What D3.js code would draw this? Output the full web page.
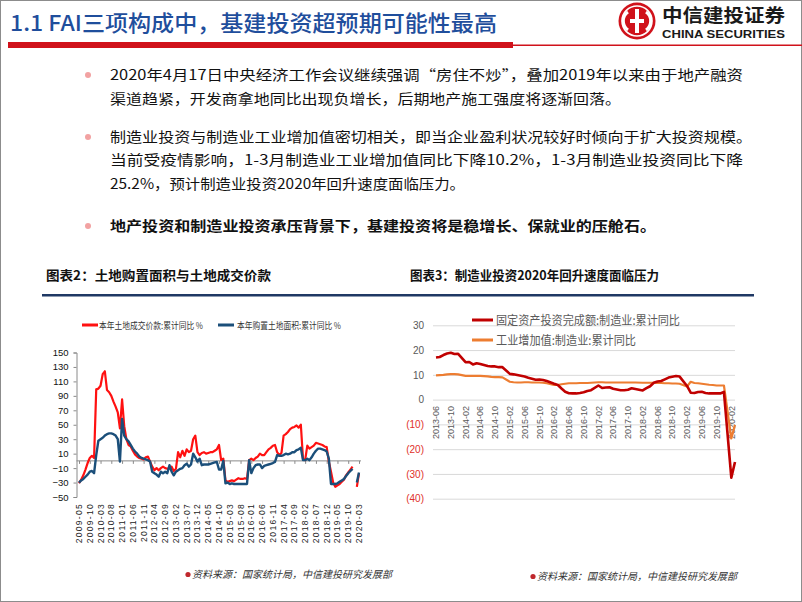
<!DOCTYPE html>
<html><head><meta charset="utf-8">
<script src="https://cdn.jsdelivr.net/npm/d3@7"></script>
<style>body{margin:0;background:#fff}svg{display:block}</style>
</head><body><svg id="c" width="802" height="602"></svg>
<script>
// ---------------- DATA ----------------
// Left chart: monthly categories 2009-05 .. 2020-03
const leftStart = [2009, 5], leftEnd = [2020, 3];
const leftTickLabels = ["2009-05","2009-10","2010-03","2010-08","2011-01","2011-06","2011-11","2012-04","2012-09","2013-02","2013-07","2013-12","2014-05","2014-10","2015-03","2015-08","2016-01","2016-06","2016-11","2017-04","2017-09","2018-02","2018-07","2018-12","2019-05","2019-10","2020-03"];
const leftYTicks = [150,130,110,90,70,50,30,10,-10,-30,-50];
const landPrice = [
 -31,-26,-20,-12,-3,4,7,4,
 99,100,104,120,124,98,95,90,82,75,67,45,
 85,48,30,22,20,14,9,6,4,3,2,5,
 6,-1,-8,-13,-10,-13,-10,-8,-10,-11,-10,-8,
 -14,-11,12,5,14,7,16,12,14,30,35,12,
 8,11,12,10,11,12,12,14,16,22,1,3,
 -27,-29,-28,-27,-28,-26,-24,-25,-25,-24,-25,1,
 3,1,4,6,10,8,8,12,16,18,21,22,
 12,8,11,35,37,40,44,46,47,49,46,50,
 3,1,21,17,19,21,25,24,23,22,20,19,
 -1,-15,-30,-36,-34,-32,-29,-26,-20,-16,-12,-8,
 null,-36,-17];
const landArea = [
 -30,-27,-25,-22,-19,-15,-14,-17,
 8,28,30,32,35,37,38,38,37,35,30,-1,
 58,35,30,27,22,17,13,10,6,4,3,2,
 1,-1,-15,-17,-19,-22,-15,-17,-15,-17,-6,-15,
 -20,-15,-13,-11,-10,-6,-4,-8,-5,10,5,-1,
 3,-6,-5,-5,-5,-4,-3,-2,-1.5,-12,-12,0,
 -31,-30,-32,-31,-32,-32,-32,-32,-32,-32,-32,1,
 -17,-10,-6,-5,-5,-10,-7,-6,-5,-4,-3,-1.5,
 8,7,7,8,10,9,10,12,12,15,16,18,
 1,1,3,1,5,10,14,17,17,16,15,13,
 3,-32,-32,-32,-31,-29,-27,-25,-21,-17,-14,-11,
 null,-30,-16];
const leftSeriesNames = ["本年土地成交价款:累计同比 %","本年购置土地面积:累计同比 %"];

// Right chart: monthly categories 2013-06 .. 2020-03
const rightStart = [2013, 6], rightEnd = [2020, 3];
const rightTickLabels = ["2013-06","2013-10","2014-02","2014-06","2014-10","2015-02","2015-06","2015-10","2016-02","2016-06","2016-10","2017-02","2017-06","2017-10","2018-02","2018-06","2018-10","2019-02","2019-06","2019-10","2020-02"];
const rightYTicks = [30,20,10,0,-10,-20,-30,-40];
const mfgFAI = [
 17.0,17.2,18.0,18.6,18.9,18.4,18.5,
 null,15.1,15.2,14.2,14.7,14.4,14.0,13.6,13.4,13.4,13.1,13.1,
 null,10.4,10.2,9.9,9.6,9.3,8.8,8.4,8.0,8.1,7.9,7.5,
 null,6.4,5.9,4.5,3.2,2.6,2.5,2.5,2.7,3.0,3.5,3.8,
 null,5.7,4.7,4.9,5.0,4.4,4.1,3.8,3.8,4.0,4.6,4.3,
 null,3.7,4.6,5.4,6.8,7.3,7.5,8.2,8.9,9.2,9.5,9.3,
 null,5.5,2.8,2.7,3.1,3.2,2.7,2.5,2.6,2.5,2.5,3.1,
 null,-31.5,-25.2];
const mfgIVA = [
 9.8,9.9,10.0,10.2,10.3,10.3,10.2,
 null,9.6,9.6,9.6,9.6,9.6,9.5,9.4,9.2,9.1,9.1,9.0,
 null,7.2,7.0,6.9,6.9,7.0,7.0,6.9,6.9,6.9,6.8,6.6,
 null,5.9,5.9,6.2,6.4,6.6,6.6,6.6,6.7,6.7,6.7,6.8,
 null,7.0,7.0,6.9,6.9,6.9,6.9,6.9,6.9,6.9,6.9,6.9,
 null,6.8,6.8,6.8,6.8,6.7,6.7,6.6,6.6,6.5,6.5,6.4,
 null,5.3,7.2,6.7,6.6,6.4,6.2,6.0,5.9,5.7,5.7,5.7,
 null,-15.7,-10.2];
const rightSeriesNames = ["固定资产投资完成额:制造业:累计同比","工业增加值:制造业:累计同比"];

// Text content
const pageTitle = "1.1 FAI三项构成中，基建投资超预期可能性最高";
const bulletLines = [
 {t:"2020年4月17日中央经济工作会议继续强调“房住不炒”，叠加2019年以来由于地产融资", dot:true, bold:false},
 {t:"渠道趋紧，开发商拿地同比出现负增长，后期地产施工强度将逐渐回落。", dot:false, bold:false},
 {t:"制造业投资与制造业工业增加值密切相关，即当企业盈利状况较好时倾向于扩大投资规模。", dot:true, bold:false},
 {t:"当前受疫情影响，1-3月制造业工业增加值同比下降10.2%，1-3月制造业投资同比下降", dot:false, bold:false},
 {t:"25.2%，预计制造业投资2020年回升速度面临压力。", dot:false, bold:false},
 {t:"地产投资和制造业投资承压背景下，基建投资将是稳增长、保就业的压舱石。", dot:true, bold:true}
];
const chartTitles = ["图表2：土地购置面积与土地成交价款","图表3：制造业投资2020年回升速度面临压力"];
const sourceNote = "资料来源：国家统计局，中信建投研究发展部";

// ---------------- HELPERS ----------------
function monthSeq(s, e){
  const out=[]; let y=s[0], m=s[1];
  while(y<e[0] || (y===e[0] && m<=e[1])){ out.push(y+"-"+String(m).padStart(2,"0")); m++; if(m>12){m=1;y++;} }
  return out;
}
const CJK = '"Noto Sans CJK SC", sans-serif';
const svg = d3.select("#c");

// frame
svg.append("rect").attr("x",0.5).attr("y",0.5).attr("width",801).attr("height",601)
  .attr("fill","#fff").attr("stroke","#8c8c8c").attr("stroke-width",1);

// ---------------- HEADER ----------------
svg.append("text").attr("x",10).attr("y",31).text(pageTitle)
  .attr("font-family",CJK).attr("font-size",22).attr("font-weight",500)
  .attr("fill","#1f4e9c").attr("textLength",487).attr("lengthAdjust","spacingAndGlyphs");
svg.append("rect").attr("x",8).attr("y",42).attr("width",505).attr("height",6).attr("fill","#d0121b");
svg.append("rect").attr("x",513).attr("y",44.5).attr("width",289).attr("height",1.5).attr("fill","#d0121b");

// logo
const lg = svg.append("g").attr("transform","translate(637,21)");
lg.append("circle").attr("r",18.5).attr("fill","#d0121b");
lg.append("circle").attr("r",15).attr("fill","none").attr("stroke","#fff").attr("stroke-width",1.6);
lg.append("rect").attr("x",-2).attr("y",-12).attr("width",4).attr("height",24).attr("fill","#fff");
lg.append("path").attr("d","M-9,-9 A11,11 0 0,0 -9,9").attr("fill","none").attr("stroke","#fff").attr("stroke-width",3);
lg.append("path").attr("d","M9,-9 A11,11 0 0,1 9,9").attr("fill","none").attr("stroke","#fff").attr("stroke-width",3);
lg.append("rect").attr("x",-7).attr("y",-2).attr("width",14).attr("height",4).attr("fill","#fff");
svg.append("text").attr("x",662).attr("y",22).text("中信建投证券")
  .attr("font-family",CJK).attr("font-size",18).attr("font-weight",700).attr("fill","#1a1a1a")
  .attr("textLength",123).attr("lengthAdjust","spacingAndGlyphs");
svg.append("text").attr("x",662).attr("y",38).text("CHINA SECURITIES")
  .attr("font-family","Liberation Sans, Arial, sans-serif").attr("font-size",10).attr("font-weight",700).attr("fill","#1a1a1a")
  .attr("textLength",123).attr("lengthAdjust","spacingAndGlyphs");

// ---------------- BULLETS ----------------
const lineY = [80, 104, 142, 165, 189, 231];
const lineEnd = [743, 621, 752, 743, 465, 656];
bulletLines.forEach((d,i)=>{
  if(d.dot) svg.append("circle").attr("cx",88).attr("cy",lineY[i]-5).attr("r",3).attr("fill","#f2a2a2");
  svg.append("text").attr("x",110).attr("y",lineY[i]).text(d.t)
    .attr("font-family",CJK).attr("font-size",14).attr("font-weight",d.bold?700:400)
    .attr("fill","#111").attr("textLength",lineEnd[i]-110).attr("lengthAdjust","spacingAndGlyphs");
});

// chart titles + rule
svg.append("text").attr("x",46).attr("y",280).text(chartTitles[0])
  .attr("font-family",CJK).attr("font-size",13).attr("font-weight",700).attr("fill","#111")
  .attr("textLength",225).attr("lengthAdjust","spacingAndGlyphs");
svg.append("text").attr("x",410).attr("y",280).text(chartTitles[1])
  .attr("font-family",CJK).attr("font-size",13).attr("font-weight",700).attr("fill","#111")
  .attr("textLength",249).attr("lengthAdjust","spacingAndGlyphs");
svg.append("rect").attr("x",42).attr("y",294).attr("width",712).attr("height",2.5).attr("fill","#1f3864");

// ---------------- LEFT CHART ----------------
const lMonths = monthSeq(leftStart, leftEnd);
const xL = d3.scalePoint().domain(lMonths).range([79, 359]);
const yL = d3.scaleLinear().domain([-50,150]).range([497, 352.5]);
const NARROW = '"Liberation Sans Narrow", "Arial Narrow", sans-serif';

const yAxisL = svg.append("g").attr("transform","translate(76.5,0)")
  .call(d3.axisLeft(yL).tickValues(leftYTicks).tickSize(3).tickPadding(5));
yAxisL.select(".domain").attr("stroke","#8a8a8a");
yAxisL.selectAll(".tick line").attr("stroke","#8a8a8a");
yAxisL.selectAll("text").attr("font-family",NARROW).attr("font-size",9.5).attr("fill","#111");

const xAxisL = svg.append("g").attr("transform",`translate(0,${yL(0)})`)
  .call(d3.axisBottom(xL).tickValues(leftTickLabels).tickSize(3).tickFormat(""));
xAxisL.select(".domain").attr("stroke","#8a8a8a").attr("d",`M76.5,0H361`);
xAxisL.selectAll(".tick line").attr("stroke","#8a8a8a");

svg.append("g").selectAll("text").data(leftTickLabels).join("text")
  .attr("transform",d=>`translate(${xL(d)+3},503) rotate(-90)`)
  .attr("text-anchor","end").text(d=>d)
  .attr("font-family","Liberation Sans, Arial, sans-serif").attr("font-size",8.5)
  .attr("letter-spacing",1.3).attr("fill","#222");

const lineL = d3.line().defined(d=>d.v!==null).x(d=>xL(d.m)).y(d=>yL(d.v));
const lp = landPrice.map((v,i)=>({m:lMonths[i],v}));
const la = landArea.map((v,i)=>({m:lMonths[i],v}));
svg.append("path").attr("d",lineL(lp)).attr("fill","none").attr("stroke","#ff1111").attr("stroke-width",2.2).attr("stroke-linejoin","round");
svg.append("path").attr("d",lineL(la)).attr("fill","none").attr("stroke","#1b4f7a").attr("stroke-width",2.4).attr("stroke-linejoin","round");

// left legend
const legL = [{c:"#ff1111",x:82,tx:99},{c:"#1b4f7a",x:218,tx:237}];
legL.forEach((d,i)=>{
  svg.append("line").attr("x1",d.x).attr("x2",d.x+16).attr("y1",325).attr("y2",325).attr("stroke",d.c).attr("stroke-width",3);
  svg.append("text").attr("x",d.tx).attr("y",328.5).text(leftSeriesNames[i])
    .attr("font-family",CJK).attr("font-size",9).attr("fill","#333")
    .attr("textLength",104).attr("lengthAdjust","spacingAndGlyphs");
});

// ---------------- RIGHT CHART ----------------
const rMonths = monthSeq(rightStart, rightEnd);
const xR = d3.scalePoint().domain(rMonths).range([436, 735]);
const yR = d3.scaleLinear().domain([-40,30]).range([498.7, 325.3]);

const gridR = svg.append("g").attr("transform","translate(433,0)")
  .call(d3.axisLeft(yR).tickValues(rightYTicks).tickSize(-302).tickPadding(9)
    .tickFormat(d=> d<0 ? `(${-d})` : `${d}`));
gridR.select(".domain").remove();
gridR.selectAll(".tick line").attr("stroke","#d9d9d9").attr("stroke-width",1);
gridR.selectAll(".tick text").attr("font-family","Liberation Sans, Arial, sans-serif").attr("font-size",10)
  .attr("fill",d=> d<0 ? "#e0302a" : "#595959");

svg.append("g").selectAll("text").data(rightTickLabels).join("text")
  .attr("transform",d=>`translate(${xR(d)+3.2},406) rotate(-90)`)
  .attr("text-anchor","end").text(d=>d)
  .attr("font-family","Liberation Sans, Arial, sans-serif").attr("font-size",9)
  .attr("fill","#595959");

const lineR = d3.line().x(d=>xR(d.m)).y(d=>yR(d.v));
const fa = mfgFAI.map((v,i)=>({m:rMonths[i],v})).filter(d=>d.v!==null);
const iv = mfgIVA.map((v,i)=>({m:rMonths[i],v})).filter(d=>d.v!==null);
svg.append("path").attr("d",lineR(iv)).attr("fill","none").attr("stroke","#ed7d31").attr("stroke-width",2.2).attr("stroke-linejoin","round");
svg.append("path").attr("d",lineR(fa)).attr("fill","none").attr("stroke","#c00000").attr("stroke-width",2.6).attr("stroke-linejoin","round");

// right legend
const legR = [{c:"#c00000",y:320},{c:"#ed7d31",y:340}];
const legRW = [184, 140];
legR.forEach((d,i)=>{
  svg.append("line").attr("x1",472).attr("x2",493).attr("y1",d.y).attr("y2",d.y).attr("stroke",d.c).attr("stroke-width",3);
  svg.append("text").attr("x",496).attr("y",d.y+4.5).text(rightSeriesNames[i])
    .attr("font-family",CJK).attr("font-size",12).attr("fill","#595959")
    .attr("textLength",legRW[i]).attr("lengthAdjust","spacingAndGlyphs");
});

// ---------------- SOURCES ----------------
[{x:188,y:578},{x:533,y:580}].forEach(p=>{
  svg.append("circle").attr("cx",p.x).attr("cy",p.y-3.5).attr("r",2.6).attr("fill","#c0282d");
  svg.append("text").attr("x",p.x+4).attr("y",p.y).text(sourceNote)
    .attr("font-family",CJK).attr("font-size",10).attr("font-style","italic").attr("fill","#333")
    .attr("textLength",200).attr("lengthAdjust","spacingAndGlyphs");
});
</script></body></html>
